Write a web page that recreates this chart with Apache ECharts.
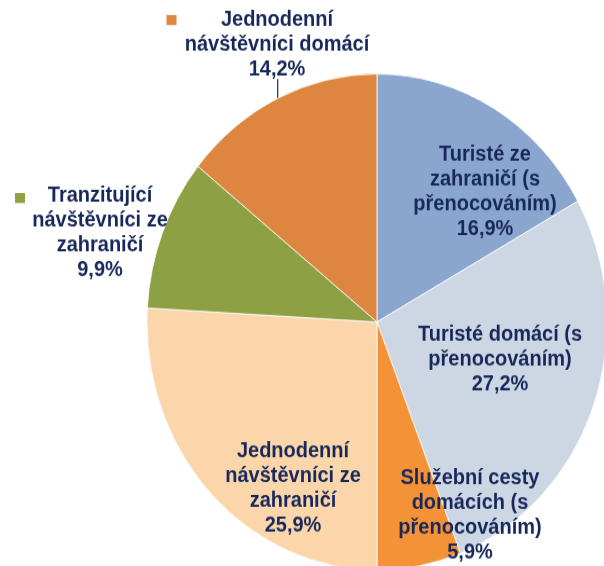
<!DOCTYPE html>
<html>
<head>
<meta charset="utf-8">
<script src="https://cdn.jsdelivr.net/npm/echarts@6/dist/echarts.min.js"></script>
<style>
  html, body { margin: 0; padding: 0; background: #ffffff; width: 604px; height: 566px; }
  #frame { position: relative; width: 604px; height: 566px; overflow: hidden; }
  /* the chart is laid out as a circle and stretched vertically into an ellipse */
  #chart { position: absolute; left: 0; top: 0; width: 604px; height: 525px;
           transform: scaleY(1.0783); transform-origin: 0 0; }
</style>
</head>
<body>
<div id="frame"><div id="chart"></div></div>
<script>
// Visitor categories, clockwise from 12 o'clock
const categories = [
  'Turisté ze\nzahraničí (s\npřenocováním)',
  'Turisté domácí (s\npřenocováním)',
  'Služební cesty\ndomácích (s\npřenocováním)',
  'Jednodenní\nnávštěvníci ze\nzahraničí',
  'Tranzitující\nnávštěvníci ze\nzahraničí',
  'Jednodenní\nnávštěvníci domácí'
];
// Share of each category, in percent
const shares = [16.9, 27.2, 5.9, 25.9, 9.9, 14.2];

const sliceColors = ['#8AA6CE', '#CDD7E4', '#F39237', '#FAD6AA', '#8EA044', '#DD8640'];
const textColor = '#17285B';
const STRETCH = 1.0783;

// label block centres on the page (x, y), converted to chart space below
const labelSpots = [[485, 192], [500, 360], [470, 515], [293, 488], [100, 233], [277, 45]];

const chart = echarts.init(document.getElementById('chart'), null, { renderer: 'canvas' });

const pieData = categories.map((name, i) => ({
  name: name,
  value: shares[i],
  itemStyle: { color: sliceColors[i] },
  labelLine: { show: i === 5 }
}));

chart.setOption({
  backgroundColor: '#ffffff',
  animation: false,
  graphic: [
    // legend keys beside the outside labels
    { type: 'rect', shape: { x: 166.5, y: 15 / STRETCH, width: 10, height: 10 / STRETCH },
      style: { fill: sliceColors[5] } },
    { type: 'rect', shape: { x: 15, y: 193 / STRETCH, width: 10, height: 10 / STRETCH },
      style: { fill: sliceColors[4] } }
  ],
  series: [{
    type: 'pie',
    center: [377, 322 / STRETCH],
    radius: 230,
    startAngle: 90,
    clockwise: true,
    avoidLabelOverlap: false,
    itemStyle: { borderColor: '#ffffff', borderWidth: 0.8 },
    emphasis: { disabled: true },
    label: {
      show: true,
      position: 'outside',
      color: textColor,
      fontFamily: 'Liberation Sans, Arial, sans-serif',
      fontWeight: 'bold',
      fontSize: 20,
      lineHeight: 23,
      align: 'center',
      formatter: p => p.name + '\n' + p.value.toFixed(1).replace('.', ',') + '%'
    },
    labelLine: { show: false, lineStyle: { color: '#000000', width: 1 } },
    labelLayout: params => {
      const spot = labelSpots[params.dataIndex];
      const out = {
        x: spot[0],
        y: spot[1] / STRETCH,
        align: 'center',
        verticalAlign: 'middle'
      };
      if (params.dataIndex === 5 && params.labelLinePoints) {
        const p0 = params.labelLinePoints[0];
        const top = 79 / STRETCH;
        out.labelLinePoints = [p0, [p0[0], top], [p0[0], top]];
      }
      return out;
    },
    data: pieData
  }]
});
</script>
</body>
</html>
